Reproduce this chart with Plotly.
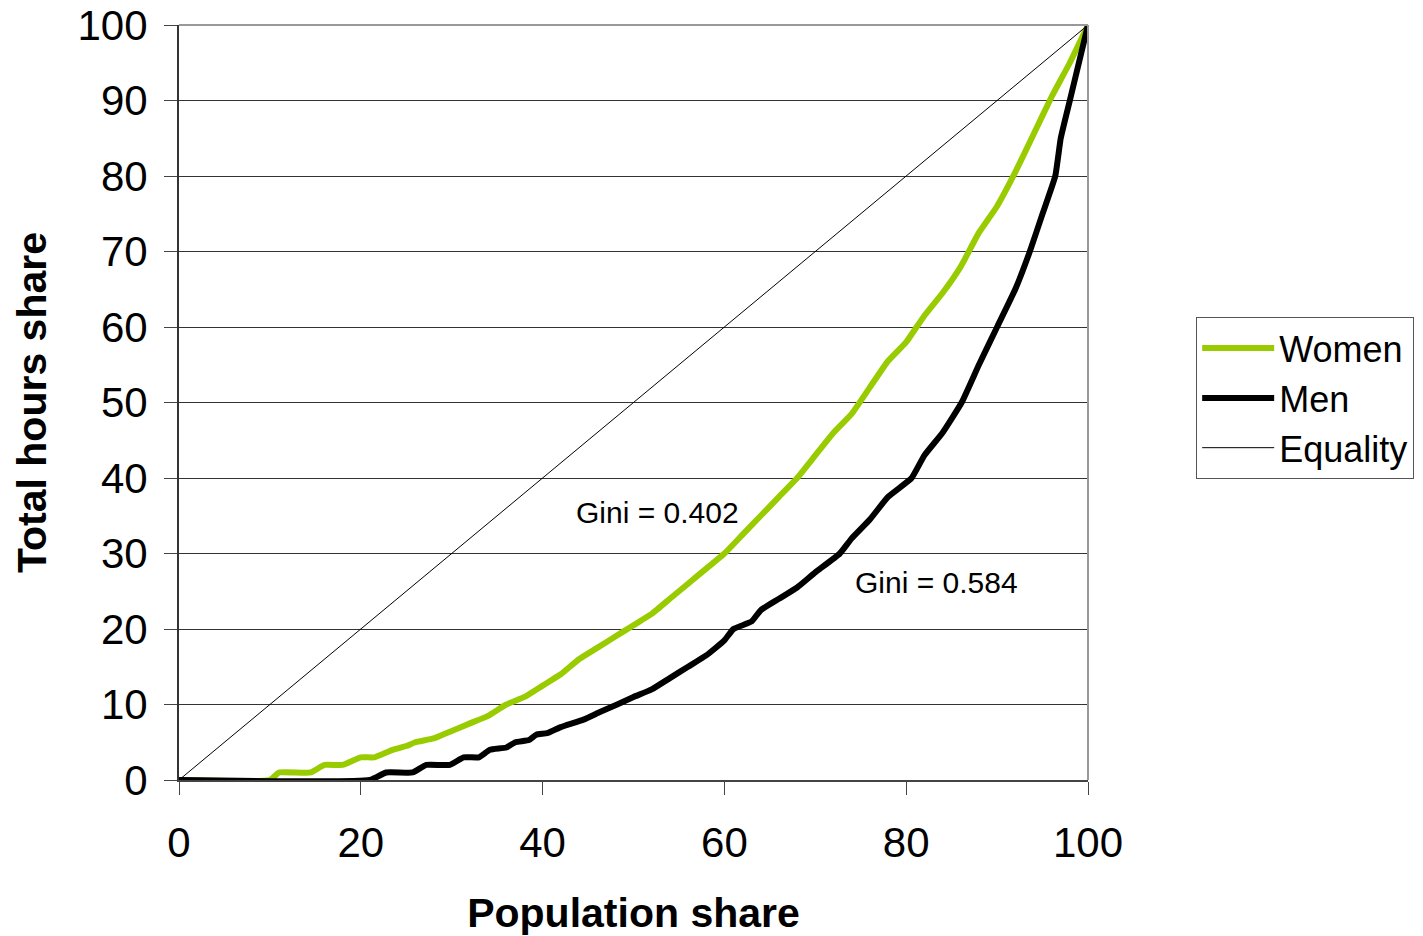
import plotly.graph_objects as go

# Population share (x) and total hours share (y)
women_x = [0, 10, 11, 14.5, 16, 18, 20, 21.5, 23.5, 25, 26, 28, 30, 32, 34, 36, 38, 40,
           42, 44, 46, 48, 50, 52, 54, 56, 58, 60, 62, 64, 66, 68, 70, 72, 74, 76, 78,
           80, 82, 84, 86, 88, 90, 92, 94, 96, 98, 100]
women_y = [0, 0, 1, 1, 2, 2, 3, 3, 4, 4.5, 5, 5.5, 6.5, 7.5, 8.5, 10, 11, 12.5,
           14, 16, 17.5, 19, 20.5, 22, 24, 26, 28, 30, 32.5, 35, 37.5, 40, 43, 46, 48.5, 52, 55.5,
           58, 61.5, 64.5, 68, 72.5, 76, 80.5, 85.5, 90.5, 95, 100]

men_x = [0, 21, 22.8, 25.7, 27.2, 29.8, 31.3, 33, 34.2, 36, 37, 38.5, 39.3, 40.5, 42,
         44.5, 46.3, 48.2, 50, 52, 54, 56, 58, 60, 61, 63, 64, 66, 68, 70, 72.7, 74, 76,
         78, 80.6, 82, 84, 86.1, 88, 90, 92, 93.6, 95, 96.4, 97, 98, 99, 100]
men_y = [0, 0, 1, 1, 2, 2, 3, 3, 4, 4.3, 5, 5.3, 6, 6.2, 7,
         8, 9, 10, 11, 12, 13.5, 15, 16.5, 18.5, 20, 21, 22.5, 24, 25.5, 27.5, 30, 32, 34.5,
         37.5, 40, 43, 46, 50, 55, 60, 65, 70, 75, 80, 85, 90, 95, 100]

equality_x = [0, 100]
equality_y = [0, 100]

tick_vals_x = [0, 20, 40, 60, 80, 100]
tick_vals_y = [0, 10, 20, 30, 40, 50, 60, 70, 80, 90, 100]

gini_labels = ["Gini = 0.402", "Gini = 0.584"]
gini_x = [52.6, 83.3]
gini_y = [35.4, 26.1]

FONT = "Liberation Sans, Arial, sans-serif"

fig = go.Figure()
fig.add_trace(go.Scatter(x=women_x, y=women_y, mode="lines", name="Women",
                         line=dict(color="#99cc00", width=6, shape="spline", smoothing=0.4)))
fig.add_trace(go.Scatter(x=men_x, y=men_y, mode="lines", name="Men",
                         line=dict(color="#000000", width=6, shape="spline", smoothing=0.4)))
fig.add_trace(go.Scatter(x=equality_x, y=equality_y, mode="lines", name="Equality",
                         line=dict(color="#000000", width=1)))

for t, xx, yy in zip(gini_labels, gini_x, gini_y):
    fig.add_annotation(x=xx, y=yy, text=t, showarrow=False, xref="x", yref="y",
                       font=dict(family=FONT, size=30, color="#000000"))

# top and right frame of plot area
fig.add_shape(type="line", xref="paper", yref="paper", x0=0, x1=1, y0=1, y1=1,
              line=dict(color="#999999", width=2))
fig.add_shape(type="line", xref="paper", yref="paper", x0=1, x1=1, y0=0, y1=1,
              line=dict(color="#999999", width=2))

fig.update_layout(
    width=1423, height=936,
    margin=dict(l=179, r=335, t=25, b=156, autoexpand=False),
    paper_bgcolor="white", plot_bgcolor="white",
    font=dict(family=FONT, color="#000000"),
    showlegend=True,
    legend=dict(x=1.119, y=0.613, xanchor="left", yanchor="top",
                bordercolor="#555555", borderwidth=1, bgcolor="white",
                font=dict(family=FONT, size=36), itemwidth=72,
                tracegroupgap=0),
    xaxis=dict(range=[0, 100], tickvals=tick_vals_x, showgrid=False, zeroline=False,
               showline=True, linecolor="#444444", linewidth=2, automargin=False,
               ticks="outside", ticklen=13, tickcolor="#444444", tickwidth=1,
               tickfont=dict(family=FONT, size=42), ticklabelstandoff=12,
               title=dict(text="<b>Population share</b>", font=dict(family=FONT, size=41),
                          standoff=33)),
    yaxis=dict(range=[0, 100], tickvals=tick_vals_y, showgrid=True, gridcolor="#333333",
               gridwidth=1, zeroline=False, automargin=False,
               showline=True, linecolor="#333333", linewidth=2,
               ticks="outside", ticklen=13, tickcolor="#444444", tickwidth=1,
               tickfont=dict(family=FONT, size=42), ticklabelstandoff=8,
               title=dict(text="<b>Total hours share</b>", font=dict(family=FONT, size=41),
                          standoff=18)),
)

fig.write_html("out.html", config={"displayModeBar": False},
               post_script="document.body.style.margin='0';")
